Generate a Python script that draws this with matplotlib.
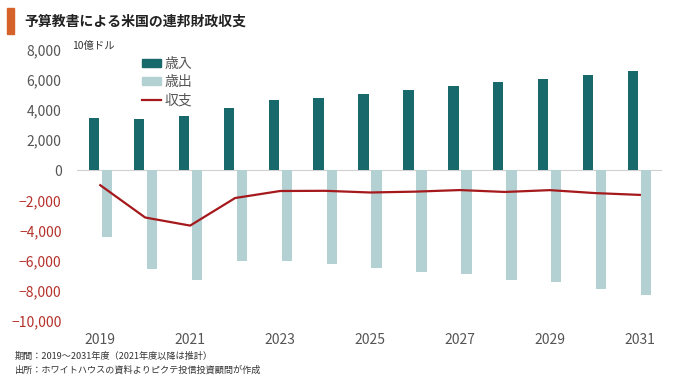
import numpy as np
import matplotlib.pyplot as plt
from matplotlib.patches import Patch, Rectangle
from matplotlib.lines import Line2D

plt.rcParams['font.family'] = ['Noto Sans CJK JP', 'DejaVu Sans']

years = np.arange(2019, 2032)
receipts = [3463, 3421, 3581, 4174, 4641, 4828, 5038, 5314, 5600, 5859, 6097, 6345, 6626]
outlays = [4447, 6552, 7249, 6011, 6013, 6187, 6508, 6728, 6909, 7294, 7411, 7854, 8256]
balance = [-984, -3132, -3669, -1837, -1372, -1359, -1470, -1414, -1309, -1435, -1314, -1509, -1630]

title = '予算教書による米国の連邦財政収支'
unit = '10億ドル'
labels = ['歳入', '歳出', '収支']
notes = ['期間：2019～2031年度（2021年度以降は推計）',
         '出所：ホワイトハウスの資料よりピクテ投信投資顧問が作成']

dark = '#17696b'
light = '#b3d1d3'
red = '#a5191c'
gray = '#555555'
neg_red = '#b5312b'

fig = plt.figure(figsize=(6.8, 3.78), dpi=100)
ax = fig.add_axes([0.113, 0.151, 0.861, 0.717])

off = 0.145
w = 0.225
ax.bar(years - off, receipts, width=w, color=dark, zorder=2)
ax.bar(years + off, [-v for v in outlays], width=w, color=light, zorder=2)
ax.plot(years, balance, color=red, lw=1.6, zorder=3)
ax.axhline(0, color='#d0d0d0', lw=0.8, zorder=1)

ax.set_xlim(2018.48, 2031.5)
ax.set_ylim(-10000, 8000)
ax.set_yticks(range(-10000, 8001, 2000))
ax.set_yticklabels([f'{v:,}'.replace('-', '−') for v in range(-10000, 8001, 2000)])
ax.set_xticks(years[::2])
ax.set_xticklabels([str(y) for y in years[::2]])
ax.tick_params(length=0, labelsize=10, colors=gray)
ax.tick_params(axis='x', pad=9)
ax.tick_params(axis='y', pad=11)
for lab, v in zip(ax.get_yticklabels(), range(-10000, 8001, 2000)):
    if v < 0:
        lab.set_color(neg_red)
for s in ax.spines.values():
    s.set_visible(False)

handles = [Patch(color=dark), Patch(color=light), Line2D([], [], color=red, lw=1.6)]
ax.legend(handles, labels, loc='upper left', bbox_to_anchor=(0.09, 1.02),
          frameon=False, fontsize=10, handlelength=1.4, handleheight=0.45,
          handletextpad=0.25, labelspacing=0.3, labelcolor=gray)

fig.add_artist(Rectangle((7 / 680, 1 - 34 / 378), 7 / 680, 26 / 378,
                         transform=fig.transFigure, color='#d5622a'))
fig.text(24 / 680, 1 - 22 / 378, title, fontsize=10, fontweight='bold',
         va='center', ha='left', color='#222222')
fig.text(72 / 680, 1 - 46 / 378, unit, fontsize=7.5, va='center', ha='left', color='#333333')
fig.text(15 / 680, 1 - 356 / 378, notes[0], fontsize=6.6, va='center', ha='left', color='#333333')
fig.text(15 / 680, 1 - 370 / 378, notes[1], fontsize=6.6, va='center', ha='left', color='#333333')

fig.savefig('out.png', dpi=100, facecolor='white')
